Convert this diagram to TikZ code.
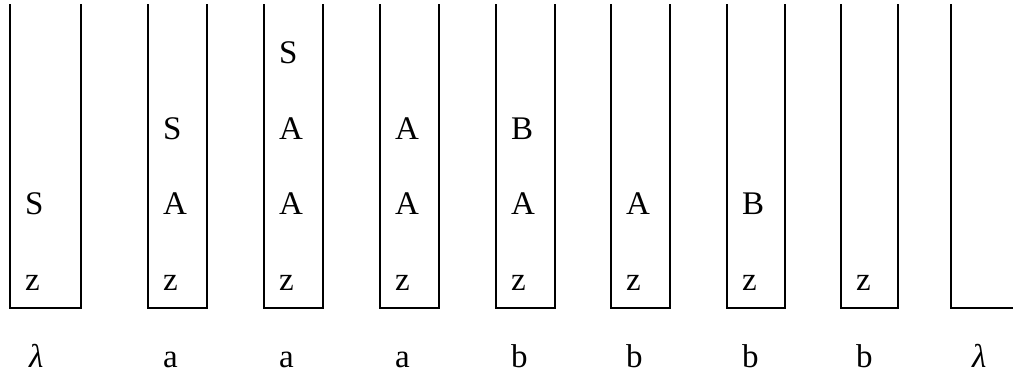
\documentclass[tikz,border=0pt]{standalone}
\usepackage{fontspec}
\setmainfont{Liberation Serif}
\usetikzlibrary{positioning}
\tikzset{
  % --- stack outline (open on top) ---
  wall/.style ={draw=black, line width=2pt, line join=miter},
  % --- stack symbols and input letters ---
  sym/.style  ={anchor=base west, inner sep=0pt, font=\fontsize{33}{39}\selectfont},
  lab/.style  ={sym},
}

\begin{document}
\begin{tikzpicture}[x=1pt,y=-1pt]
  \useasboundingbox (0,0) rectangle (1013,376);
  \clip (0,0) rectangle (1013,376);

  % ===================== stacks =====================
  \foreach \xl/\xr [count=\i] in {10/81,148/207,264/323,380/439,496/555,
                                  611/670,727/785,841/898,951/1040}
    \draw[wall] (\xl,4) -- (\xl,308) -- (\xr,308) -- (\xr,4);

  % ===================== stack contents =====================
  % level 1
  \foreach \x [count=\i] in {25,163,279,395,511,626,742,856}
    \node[sym] (p\i-1) at (\x,290) {z};
  % level 2
  \foreach \x/\c [count=\i] in {25/S,163/A,279/A,395/A,511/A,626/A,742/B}
    \node[sym] (p\i-2) at (\x,214) {\c};
  % level 3
  \foreach \x/\c [count=\i from 2] in {163/S,279/A,395/A,511/B}
    \node[sym] (p\i-3) at (\x,139) {\c};
  % level 4
  \node[sym] (p3-4) at (279,63) {S};

  % ===================== input read =====================
  \foreach \x/\c [count=\i] in {29/\textit{λ},163/a,279/a,395/a,511/b,
                                 626/b,742/b,856/b,972/\textit{λ}}
    \node[lab] (in\i) at (\x,367) {\c};

\end{tikzpicture}
\end{document}
